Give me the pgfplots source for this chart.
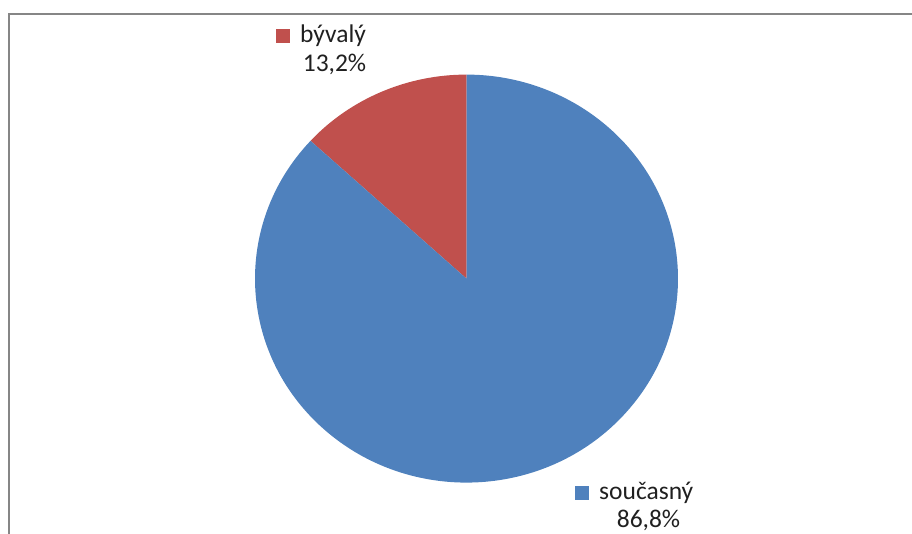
\documentclass[border=0pt]{standalone}
\usepackage{pgfplots}
\usepackage{pgfplotstable}
\pgfplotsset{compat=1.18}
\usepackage{fontspec}
\setmainfont{Carlito}
\definecolor{pieblue}{HTML}{4F81BD}
\definecolor{piered}{HTML}{C0504D}
\definecolor{framegray}{HTML}{868686}
\definecolor{txt}{HTML}{202020}
\pgfplotstableread{
label value
byvaly 13.2
soucasny 86.8
}\piedata
\begin{document}
\begin{tikzpicture}
\pgfplotstablegetelem{0}{value}\of\piedata \let\va\pgfplotsretval
\pgfplotstablegetelem{1}{value}\of\piedata \let\vb\pgfplotsretval
\pgfmathsetmacro\aA{90}
\pgfmathsetmacro\aB{90+3.6*\va}
\pgfmathsetmacro\aC{\aB+3.6*\vb}
\begin{axis}[scale only axis, width=912pt, height=534pt,
  xmin=0, xmax=912, ymin=0, ymax=534, hide axis, clip=false]
\path (axis cs:0,0) coordinate (ll) (axis cs:912,534) coordinate (ur);
\draw[framegray, line width=2pt] (axis cs:9,0) -- (axis cs:9,520) -- (axis cs:912,520);
\fill[piered] (axis cs:466.5,255.4) -- +(\aA:211.5pt and 204pt)
  arc[start angle=\aA, end angle=\aB, x radius=211.5pt, y radius=204pt] -- cycle;
\fill[pieblue] (axis cs:466.5,255.4) -- +(\aB:211.5pt and 204pt)
  arc[start angle=\aB, end angle=\aC, x radius=211.5pt, y radius=204pt] -- cycle;
\node[anchor=base west, inner sep=0pt, text=txt, font=\fontsize{25.5}{29}\selectfont]
  at (axis cs:276,491) {\textcolor{piered}{\rule{14pt}{14pt}}\hspace{10pt}bývalý};
\node[anchor=base, inner sep=0pt, text=txt, font=\fontsize{25.5}{29}\selectfont]
  at (axis cs:334.5,462) {13,2\%};
\node[anchor=base west, inner sep=0pt, text=txt, font=\fontsize{25.5}{29}\selectfont]
  at (axis cs:575,34) {\textcolor{pieblue}{\rule{14pt}{14pt}}\hspace{10pt}současný};
\node[anchor=base, inner sep=0pt, text=txt, font=\fontsize{25.5}{29}\selectfont]
  at (axis cs:648.5,6) {86,8\%};
\end{axis}
\pgfresetboundingbox
\path (ll) rectangle (ur);
\end{tikzpicture}
\end{document}
